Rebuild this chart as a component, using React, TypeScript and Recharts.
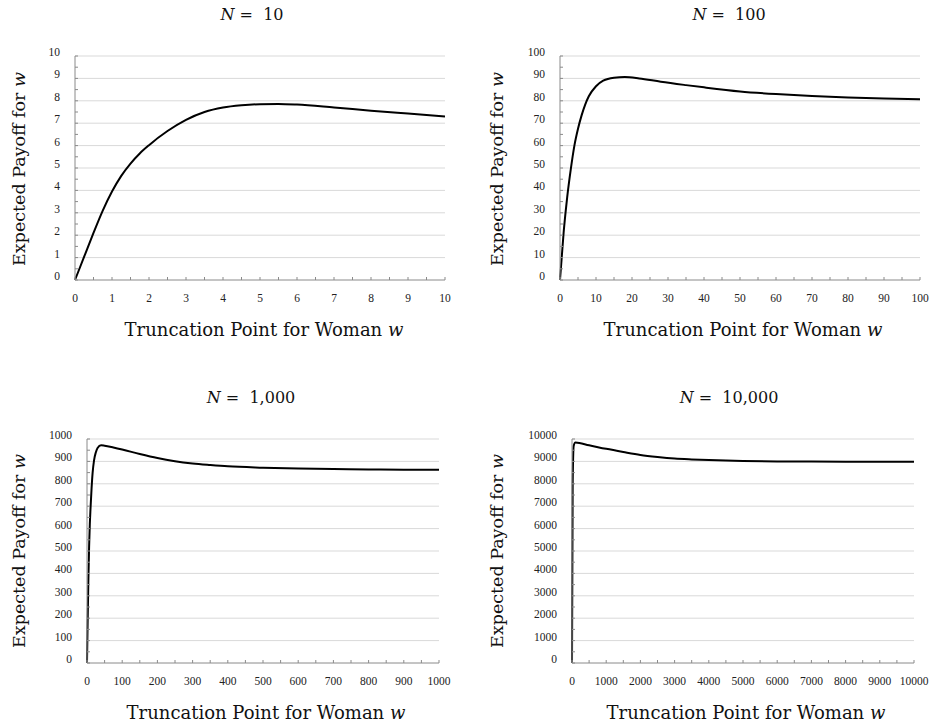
import { LineChart, Line, XAxis, YAxis, CartesianGrid } from "recharts";

const SERIF = '"Liberation Serif", "DejaVu Serif", serif';
const WIDE = '"DejaVu Serif", "Liberation Serif", serif';
const AXIS = "#8a8a8a";
const GRID = "#d9d9d9";

// N = 10
const x10 = [0, 0.25, 0.5, 0.75, 1, 1.25, 1.5, 1.75, 2, 2.5, 3, 3.5, 4, 4.5, 5, 5.5, 6, 7, 8, 9, 10];
const y10 = [0, 1.05, 2.1, 3.1, 3.95, 4.65, 5.2, 5.65, 6.02, 6.65, 7.15, 7.5, 7.7, 7.8, 7.85, 7.86, 7.83, 7.7, 7.56, 7.43, 7.3];
const major10 = [0, 1, 2, 3, 4, 5, 6, 7, 8, 9, 10];

// N = 100
const x100 = [0, 0.5, 1, 1.5, 2, 3, 4, 5, 6, 7, 8, 10, 12, 15, 18, 22, 28, 35, 40, 50, 60, 70, 80, 90, 100];
const y100 = [0, 10.5, 21, 29.5, 37, 49.5, 60, 67.5, 73.5, 78.3, 82, 86.5, 89, 90.3, 90.6, 90, 88.5, 87, 86, 84.2, 83, 82.1, 81.5, 81, 80.7];
const major100 = [0, 10, 20, 30, 40, 50, 60, 70, 80, 90, 100];

// N = 1,000
const x1k = [0, 2, 4, 6, 8, 10, 13, 16, 20, 25, 30, 40, 50, 75, 100, 150, 200, 250, 300, 350, 400, 500, 600, 700, 800, 900, 1000];
const y1k = [0, 200, 380, 520, 620, 690, 780, 850, 905, 940, 960, 972, 970, 962, 953, 933, 915, 901, 891, 884, 878, 872, 868, 866, 864, 863, 863];
const major1k = [0, 100, 200, 300, 400, 500, 600, 700, 800, 900, 1000];

// N = 10,000
const x10k = [0, 20, 50, 100, 500, 1000, 1500, 2000, 2500, 3000, 3500, 4000, 5000, 6000, 7000, 8000, 9000, 10000];
const y10k = [0, 8000, 9700, 9840, 9720, 9560, 9420, 9290, 9200, 9130, 9090, 9060, 9020, 9000, 8992, 8988, 8986, 8985];
const major10k = [0, 1000, 2000, 3000, 4000, 5000, 6000, 7000, 8000, 9000, 10000];

const rows = (xs: number[], ys: number[]) => xs.map((x, i) => ({ x, y: ys[i] }));

// majors plus the half-way minor ticks
function withMinor(major: number[]) {
  const out: number[] = [];
  major.forEach((v, i) => {
    out.push(v);
    if (i < major.length - 1) out.push((v + major[i + 1]) / 2);
  });
  return out;
}

const isMajor = (major: number[], v: number) => major.some((m) => Math.abs(m - v) < 1e-9);

function XTick(major: number[]) {
  return (p: any) => {
    const v = p.payload.value;
    return (
      <g>
        <line x1={p.x} x2={p.x} y1={p.y} y2={p.y - 3} stroke={AXIS} />
        {isMajor(major, v) && (
          <text x={p.x} y={p.y + 22} textAnchor="middle" fontFamily={SERIF} fontSize={11.5} fill="#222">
            {v}
          </text>
        )}
      </g>
    );
  };
}

function YTick(major: number[]) {
  return (p: any) => {
    const v = p.payload.value;
    return (
      <g>
        <line x1={p.x} x2={p.x + 3} y1={p.y} y2={p.y} stroke={AXIS} />
        {isMajor(major, v) && (
          <text x={p.x - 15} y={p.y} textAnchor="end" fontFamily={SERIF} fontSize={11.5} fill="#222">
            {v}
          </text>
        )}
      </g>
    );
  };
}

type PanelProps = {
  left: number;
  top: number;
  height: number;
  yWidth: number;
  mTop: number;
  mRight: number;
  mBottom: number;
  title: string;
  titleX: number;
  titleY: number;
  xTitleX: number;
  xTitleY: number;
  yTitleX: number;
  yTitleY: number;
  data: { x: number; y: number }[];
  major: number[];
};

function Panel(pp: PanelProps) {
  const max = pp.major[pp.major.length - 1];
  const ticks = withMinor(pp.major);
  return (
    <div style={{ position: "absolute", left: pp.left, top: pp.top, width: 466, height: pp.height }}>
      <LineChart
        width={466}
        height={pp.height}
        data={pp.data}
        margin={{ top: pp.mTop, right: pp.mRight, bottom: pp.mBottom, left: 0 }}
      >
        <CartesianGrid horizontal vertical={false} horizontalValues={pp.major.slice(1)} stroke={GRID} />
        <XAxis
          type="number"
          dataKey="x"
          domain={[0, max]}
          ticks={ticks}
          interval={0}
          height={30}
          tickSize={0}
          tickMargin={0}
          tick={XTick(pp.major)}
          axisLine={{ stroke: AXIS }}
          label={{
            content: () => (
              <g>
                <text x={pp.titleX} y={pp.titleY} textAnchor="middle" fontFamily={WIDE} fontSize={16} fill="#111" xmlSpace="preserve">
                  <tspan fontStyle="italic">N</tspan>{" =  " + pp.title}
                </text>
                <text x={pp.xTitleX} y={pp.xTitleY} textAnchor="middle" fontFamily={WIDE} fontSize={18} fill="#111">
                  Truncation Point for Woman <tspan fontStyle="italic">w</tspan>
                </text>
              </g>
            ),
          }}
        />
        <YAxis
          type="number"
          domain={[0, max]}
          ticks={ticks}
          interval={0}
          width={pp.yWidth}
          tickSize={0}
          tickMargin={0}
          tick={YTick(pp.major)}
          axisLine={{ stroke: AXIS }}
          label={{
            content: () => (
              <text
                x={pp.yTitleX}
                y={pp.yTitleY}
                transform={`rotate(-90 ${pp.yTitleX} ${pp.yTitleY})`}
                textAnchor="middle"
                dominantBaseline="central"
                fontFamily={WIDE}
                fontSize={17.5}
                fill="#111"
              >
                Expected Payoff for <tspan fontStyle="italic">w</tspan>
              </text>
            ),
          }}
        />
        <Line type="monotone" dataKey="y" stroke="#000" strokeWidth={2} dot={false} isAnimationActive={false} />
      </LineChart>
    </div>
  );
}

export default function App() {
  return (
    <div style={{ position: "absolute", left: 0, top: 0, width: 932, height: 727, background: "#fff" }}>
      <Panel
        left={0} top={0} height={360} yWidth={75} mTop={56} mRight={21} mBottom={50}
        title="10" titleX={252} titleY={20}
        xTitleX={264} xTitleY={336} yTitleX={19} yTitleY={169}
        data={rows(x10, y10)} major={major10}
      />
      <Panel
        left={466} top={0} height={360} yWidth={94} mTop={56} mRight={12} mBottom={50}
        title="100" titleX={263} titleY={20}
        xTitleX={277} xTitleY={336} yTitleX={31} yTitleY={169}
        data={rows(x100, y100)} major={major100}
      />
      <Panel
        left={0} top={360} height={367} yWidth={87} mTop={79} mRight={27} mBottom={34}
        title="1,000" titleX={251} titleY={43}
        xTitleX={266} xTitleY={359} yTitleX={19} yTitleY={191}
        data={rows(x1k, y1k)} major={major1k}
      />
      <Panel
        left={466} top={360} height={367} yWidth={106} mTop={79} mRight={18} mBottom={34}
        title="10,000" titleX={263} titleY={43}
        xTitleX={280} xTitleY={359} yTitleX={31} yTitleY={191}
        data={rows(x10k, y10k)} major={major10k}
      />
    </div>
  );
}
